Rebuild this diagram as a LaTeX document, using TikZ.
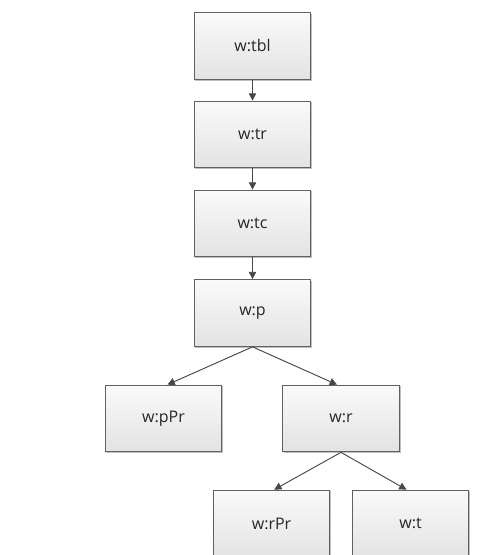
\documentclass[tikz,border=0pt]{standalone}
\usepackage{fontspec}
\setmainfont{Open Sans}
\usetikzlibrary{arrows.meta,shadows}
\begin{document}
\begin{tikzpicture}[x=0.75pt,y=-0.75pt,
  elem/.style={draw=black!62, line width=0.8pt, top color=white!98!black, bottom color=white!89!black,
    minimum width=87.5pt, minimum height=50pt, inner sep=0pt,
    font=\fontsize{12}{14}\selectfont, text=black!85,
    drop shadow={shadow xshift=0.9pt, shadow yshift=-0.9pt, opacity=0.25, fill=black}},
  link/.style={draw=black!72, line width=0.7pt, -{Triangle[length=5.5pt,width=5.5pt]}}]
\useasboundingbox (0,0) rectangle (481,555);
\clip (0,0) rectangle (481,555);
% main chain
\node[elem] (tbl) at (252.5,46) {w:tbl};
\node[elem] (tr)  at (252.5,134.5) {w:tr};
\node[elem] (tc)  at (252.5,223.5) {w:tc};
\node[elem] (p)   at (252.5,313) {w:p};
% children of w:p
\node[elem] (pPr) at (163.5,418.5) {w:pPr};
\node[elem] (r)   at (341,418.5) {w:r};
% children of w:r
\node[elem] (rPr) at (271.5,523.5) {w:rPr};
\node[elem] (t)   at (410.5,523.5) {w:t};
% connectors
\draw[link] (tbl) -- (tr);
\draw[link] (tr) -- (tc);
\draw[link] (tc) -- (p);
\draw[link] (p.south) -- ([xshift=3pt]pPr.north);
\draw[link] (p.south) -- ([xshift=-3pt]r.north);
\draw[link] (r.south) -- ([xshift=2pt]rPr.north);
\draw[link] (r.south) -- ([xshift=-3pt]t.north);
\end{tikzpicture}
\end{document}
